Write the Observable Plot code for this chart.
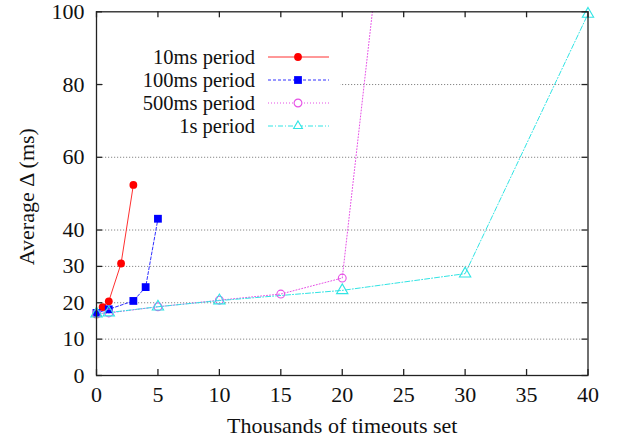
<!DOCTYPE html>
<html>
<head>
<meta charset="utf-8">
<script src="https://cdn.jsdelivr.net/npm/d3@7"></script>
<script src="https://cdn.jsdelivr.net/npm/@observablehq/plot@0.6"></script>
<style>
  html, body { margin: 0; padding: 0; background: #fff; }
  #wrap { position: relative; width: 619px; height: 438px; font-family: 'Liberation Serif', serif; }
  #wrap svg, #wrap text { font-family: 'Liberation Serif', serif !important; }
</style>
</head>
<body>
<div id="wrap"></div>
<script>
// ---- data ----
const seriesNames = ["10ms period", "100ms period", "500ms period", "1s period"];
const x10 = [0, 0.5, 1, 2, 3];
const y10 = [16.8, 18.8, 20.4, 30.8, 52.4];
const x100 = [0, 1, 3, 4, 5];
const y100 = [17.2, 18.2, 20.5, 24.3, 43.1];
const x500 = [0, 1, 5, 10, 15, 20, 25];
const y500 = [17.0, 17.2, 18.9, 20.7, 22.4, 26.8, 176];
const x1s = [0, 1, 5, 10, 20, 30, 40];
const y1s = [17.0, 17.3, 18.9, 20.6, 23.4, 28.0, 99.4];
const xTicks = [0, 5, 10, 15, 20, 25, 30, 35, 40];
const yTicks = [0, 10, 20, 30, 40, 60, 80, 100];
const gridVals = [10, 20, 30, 40, 60, 80];

// ---- styles ----
const colors = ["#ff0000", "#0000ff", "#e650e6", "#30e4e4"];
const lineColors = ["#ff3030", "#3030ff", "#e650e6", "#30e4e4"];
const dashes = [null, "3,2", "1,2", "5,2,1,2"];
const symbols = ["circle", "square", "circle", "triangle"];
const fills = [true, true, false, false];
const radii = [3.9, 4.4, 3.9, 4.2];

const xs = [x10, x100, x500, x1s];
const ys = [y10, y100, y500, y1s];
const series = seriesNames.map((name, i) => xs[i].map((x, j) => ({name, x, y: ys[i][j]})));

const W = 619, H = 438;
const mL = 96, mR = 31.5, mT = 11.3, mB = 63;
const pw = W - mL - mR, ph = H - mT - mB;
const tickLen = 6;
const font = "'Liberation Serif', serif";
const fs = 22;
const legendFs = 20.5;

const marks = [];
marks.push(Plot.tickY(gridVals, {y: d => d, stroke: "#888", strokeWidth: 1, strokeDasharray: "1.2,1.8", insetLeft: tickLen, insetRight: tickLen}));
series.forEach((data, i) => {
  marks.push(Plot.line(data, {x: "x", y: "y", stroke: lineColors[i], strokeWidth: 1, strokeDasharray: dashes[i], clip: true}));
});
series.forEach((data, i) => {
  marks.push(Plot.dot(data.filter(d => d.y <= 100), {x: "x", y: "y", symbol: symbols[i], r: radii[i],
    fill: fills[i] ? colors[i] : "none", stroke: colors[i], strokeWidth: fills[i] ? 0 : 1.1}));
});
marks.push(Plot.frame({stroke: "#222", strokeWidth: 1.3}));
marks.push(Plot.tickX(xTicks, {x: d => d, stroke: "#222", strokeWidth: 1.3, insetTop: ph - tickLen}));
marks.push(Plot.tickX(xTicks, {x: d => d, stroke: "#222", strokeWidth: 1.3, insetBottom: ph - tickLen}));
marks.push(Plot.tickY(yTicks, {y: d => d, stroke: "#222", strokeWidth: 1.3, insetRight: pw - tickLen}));
marks.push(Plot.tickY(yTicks, {y: d => d, stroke: "#222", strokeWidth: 1.3, insetLeft: pw - tickLen}));
marks.push(Plot.axisX(xTicks, {tickSize: 0, tickPadding: 11, fontSize: fs, fontFamily: font, label: null}));
marks.push(Plot.axisY(yTicks, {tickSize: 0, tickPadding: 12, fontSize: fs, fontFamily: font, label: null}));
marks.push(Plot.text(["Thousands of timeouts set"], {frameAnchor: "bottom", dy: 50, lineAnchor: "middle", fontSize: fs, fontFamily: font, fill: "#111"}));
marks.push(Plot.text(["Average Δ (ms)"], {frameAnchor: "left", dx: -70, dy: 3, rotate: -90, lineAnchor: "middle", textAnchor: "middle", fontSize: fs, fontFamily: font, fill: "#111"}));

const chart = Plot.plot({
  width: W, height: H,
  marginLeft: mL, marginRight: mR, marginTop: mT, marginBottom: mB,
  style: {fontFamily: font, fontSize: fs + "px", color: "#111", background: "#fff"},
  x: {domain: [0, 40]},
  y: {domain: [0, 100]},
  marks
});
const wrap = document.getElementById("wrap");
wrap.appendChild(chart);

// ---- legend overlay ----
const ns = "http://www.w3.org/2000/svg";
const leg = document.createElementNS(ns, "svg");
leg.setAttribute("width", W); leg.setAttribute("height", 150);
leg.style.position = "absolute"; leg.style.left = "0px"; leg.style.top = "0px";
const bg = document.createElementNS(ns, "rect");
bg.setAttribute("x", 103); bg.setAttribute("y", 45); bg.setAttribute("width", 237); bg.setAttribute("height", 92);
bg.setAttribute("fill", "#fff");
leg.appendChild(bg);
const rowY = [57.0, 80.0, 103.0, 126.0];
seriesNames.forEach((name, i) => {
  const t = document.createElementNS(ns, "text");
  t.setAttribute("x", 255); t.setAttribute("y", rowY[i]);
  t.setAttribute("text-anchor", "end"); t.setAttribute("dy", "0.32em");
  t.setAttribute("font-family", font); t.setAttribute("font-size", legendFs); t.setAttribute("fill", "#111");
  t.textContent = name;
  leg.appendChild(t);
  const l = document.createElementNS(ns, "line");
  l.setAttribute("x1", 268); l.setAttribute("x2", 329); l.setAttribute("y1", rowY[i]); l.setAttribute("y2", rowY[i]);
  l.setAttribute("stroke", lineColors[i]); l.setAttribute("stroke-width", 1);
  if (dashes[i]) l.setAttribute("stroke-dasharray", dashes[i]);
  leg.appendChild(l);
  const p = document.createElementNS(ns, "path");
  const sym = {circle: d3.symbolCircle, square: d3.symbolSquare, triangle: d3.symbolTriangle2}[symbols[i]];
  p.setAttribute("d", d3.symbol(sym, Math.PI * radii[i] * radii[i])());
  p.setAttribute("transform", `translate(298,${rowY[i]})`);
  p.setAttribute("fill", fills[i] ? colors[i] : "#fff");
  p.setAttribute("stroke", colors[i]);
  p.setAttribute("stroke-width", fills[i] ? 0 : 1.1);
  leg.appendChild(p);
});
wrap.appendChild(leg);
</script>
</body>
</html>
